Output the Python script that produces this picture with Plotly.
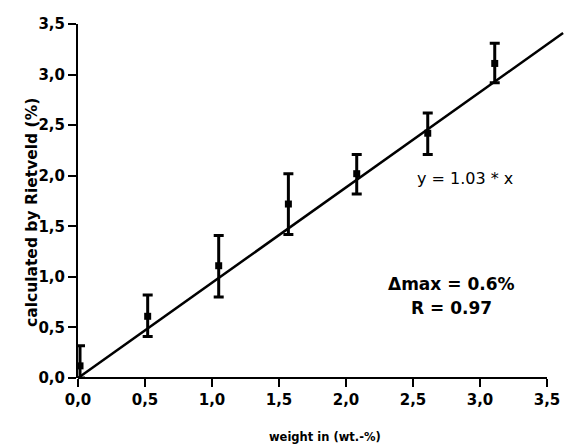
import plotly.graph_objects as go

# Data (tick-axis units)
weight_x = [0.015, 0.52, 1.05, 1.57, 2.08, 2.61, 3.11]
rietveld_y = [0.12, 0.61, 1.11, 1.72, 2.02, 2.42, 3.11]
err_hi = [0.32, 0.82, 1.41, 2.02, 2.21, 2.62, 3.31]
err_lo = [0.00, 0.41, 0.80, 1.42, 1.82, 2.21, 2.92]

fit_x = [0.0, 3.62]
fit_y = [0.0, 3.41]

tick_vals = [0.0, 0.5, 1.0, 1.5, 2.0, 2.5, 3.0, 3.5]
tick_text = ["0,0", "0,5", "1,0", "1,5", "2,0", "2,5", "3,0", "3,5"]

err_plus = [h - y for h, y in zip(err_hi, rietveld_y)]
err_minus = [y - l for y, l in zip(rietveld_y, err_lo)]

fig = go.Figure()
fig.add_trace(go.Scatter(
    x=fit_x, y=fit_y, mode="lines",
    line=dict(color="black", width=2.5), showlegend=False, hoverinfo="skip"))
fig.add_trace(go.Scatter(
    x=weight_x, y=rietveld_y, mode="markers",
    marker=dict(symbol="square", size=7, color="black"),
    error_y=dict(type="data", symmetric=False, array=err_plus, arrayminus=err_minus,
                 color="black", thickness=3, width=5),
    showlegend=False))

W, H = 581, 446
ml, mr, mt, mb = 78, 10, 24, 68
plot_w = W - ml - mr
plot_h = H - mt - mb
x_end_px = 547 - ml
xmax = 3.5 * plot_w / x_end_px

tickfont = dict(family="DejaVu Sans", size=15, color="black", weight="bold")

fig.update_layout(
    width=W, height=H,
    margin=dict(l=ml, r=mr, t=mt, b=mb),
    plot_bgcolor="white", paper_bgcolor="white",
    xaxis=dict(range=[0, xmax], showline=False, zeroline=False, showgrid=False,
               tickmode="array", tickvals=tick_vals, ticktext=tick_text,
               ticks="outside", ticklen=8, tickwidth=2, tickcolor="black",
               tickfont=tickfont),
    yaxis=dict(range=[0, 3.5], showline=True, linewidth=2, linecolor="black",
               zeroline=False, showgrid=False,
               tickmode="array", tickvals=tick_vals, ticktext=tick_text,
               ticks="outside", ticklen=8, tickwidth=2, tickcolor="black",
               tickfont=tickfont),
    shapes=[dict(type="line", xref="x", yref="paper", x0=0, x1=3.5, y0=0, y1=0,
                 line=dict(color="black", width=2), layer="above")],
    annotations=[
        dict(text="calculated by Rietveld (%)", xref="paper", yref="paper",
             x=(32 - ml) / plot_w, y=(378 - 213) / plot_h, textangle=-90,
             showarrow=False, xanchor="center", yanchor="middle",
             font=dict(family="DejaVu Sans", size=15.5, color="black", weight="bold")),
        dict(text="weight in (wt.-%)", xref="paper", yref="paper",
             x=(325 - ml) / plot_w, y=(378 - 437) / plot_h,
             showarrow=False, xanchor="center", yanchor="middle",
             font=dict(family="DejaVu Sans", size=11.5, color="black", weight="bold")),
        dict(text="y = 1.03 * x", xref="x", yref="y", x=2.89, y=1.97,
             showarrow=False, xanchor="center", yanchor="middle",
             font=dict(family="DejaVu Sans", size=16, color="black")),
        dict(text="Δmax = 0.6%", xref="x", yref="y", x=2.79, y=0.93,
             showarrow=False, xanchor="center", yanchor="middle",
             font=dict(family="DejaVu Sans", size=17, color="black", weight="bold")),
        dict(text="R = 0.97", xref="x", yref="y", x=2.79, y=0.69,
             showarrow=False, xanchor="center", yanchor="middle",
             font=dict(family="DejaVu Sans", size=17, color="black", weight="bold")),
    ],
)

fig.write_html("out.html", config={"displayModeBar": False},
               post_script="document.body.style.margin='0';")
